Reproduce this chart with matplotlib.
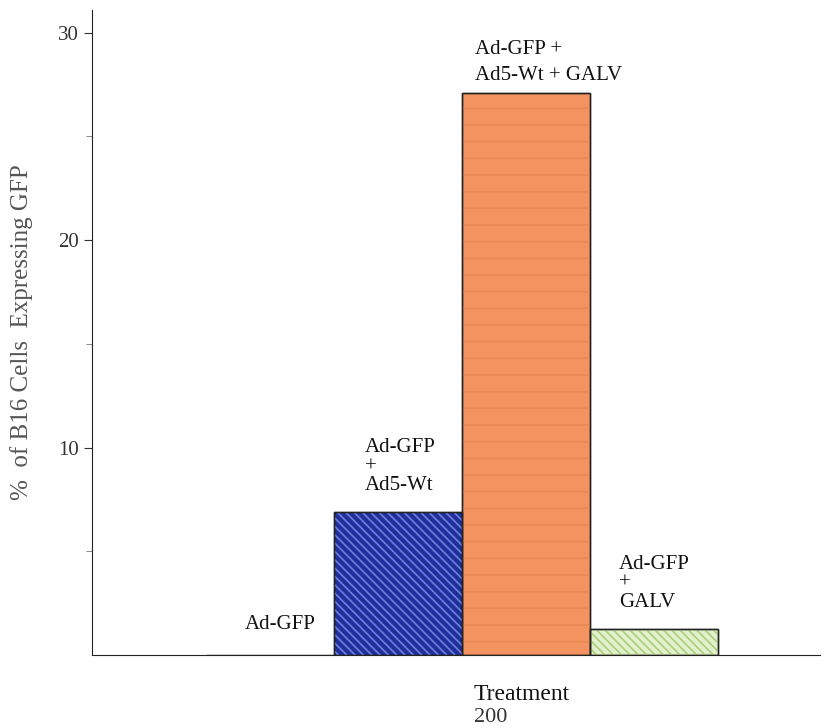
import matplotlib
matplotlib.use("Agg")
import matplotlib.pyplot as plt

categories = ["Ad-GFP", "Ad-GFP\n+\nAd5-Wt", "Ad-GFP +\nAd5-Wt + GALV", "Ad-GFP\n+\nGALV"]
values = [0.0, 6.9, 27.1, 1.25]
face_colors = ["#ffffff", "#1f2f9e", "#f39460", "#e4f0cc"]
hatch_colors = ["#ffffff", "#7080d8", "#e98a55", "#a8d07c"]
hatches = [None, "\\\\\\\\", "-", "\\\\\\\\"]
yticks = [10, 20, 30]
minor_yticks = [5, 15, 25]

plt.rcParams['font.family'] = ['Liberation Serif', 'DejaVu Serif']
plt.rcParams['hatch.linewidth'] = 1.2

fig = plt.figure(figsize=(8.25, 7.28), dpi=100)
ax = fig.add_axes([0.1115, 0.1003, 0.8825, 0.886])

x = list(range(len(values)))
ax.bar(x, values, width=1.0, color=face_colors, edgecolor="#222222", linewidth=1.0, zorder=2)
for xi, v, hc, h in zip(x, values, hatch_colors, hatches):
    if h and v > 0:
        ax.bar([xi], [v], width=1.0, color="none", edgecolor=hc, hatch=h, linewidth=0, zorder=3)
        ax.bar([xi], [v], width=1.0, color="none", edgecolor="#222222", linewidth=1.0, zorder=4)

ax.set_xlim(-1.39, 4.30)
ax.set_ylim(0, 31.1)
ax.set_yticks(yticks)
ax.set_yticks(minor_yticks, minor=True)
ax.set_xticks([])
ax.tick_params(axis='y', which='major', length=6, width=0.8, labelsize=15, colors="#333333", labelcolor="#333333")
ax.tick_params(axis='y', which='minor', length=4, width=0.6, colors="#777777")
for s in ["top", "right"]:
    ax.spines[s].set_visible(False)
ax.spines["left"].set_color("#222222")
ax.spines["bottom"].set_color("#222222")

ax.set_ylabel("%  of B16 Cells  Expressing GFP", fontsize=18, color="#555555", labelpad=18)
ax.set_xlabel("Treatment", fontsize=17, color="#111111")
ax.xaxis.set_label_coords(0.59, -0.045, transform=ax.transAxes)
ax.xaxis.label.set_va("top")

# bar labels
ax.text(0.08, 1.0, categories[0], fontsize=15, ha="center", va="bottom", color="#111111")
ax.text(x[1] - 0.26, 7.7, categories[1], fontsize=15, ha="left", va="bottom",
        color="#111111", linespacing=1.0)
ax.text(1.60, 27.5, categories[2], fontsize=15, ha="left", va="bottom",
        color="#111111", linespacing=1.45)
ax.text(x[3] - 0.27, 2.07, categories[3], fontsize=15, ha="left", va="bottom",
        color="#111111", linespacing=1.0)

fig.text(0.595, 0.002, "200", fontsize=16, ha="center", va="bottom", color="#333333")

fig.savefig("out.png", dpi=100)
